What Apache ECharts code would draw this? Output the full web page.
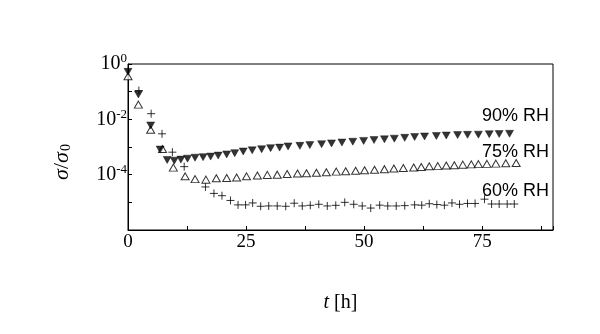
<!DOCTYPE html>
<html>
<head>
<meta charset="utf-8">
<script src="https://cdn.jsdelivr.net/npm/echarts@6/dist/echarts.min.js"></script>
<style>
  html, body { margin: 0; padding: 0; background: #fff; }
  #chart { width: 600px; height: 334px; }
</style>
</head>
<body>
<div id="chart"></div>
<script>
// Normalised conductivity sigma/sigma0 versus time at three humidities
const xTicks = [0, 25, 50, 75];

const rh90 = [
  [0, 0.52], [2.2, 0.079], [4.8, 6.0e-3], [6.8, 8.1e-4], [8.3, 3.4e-4],
  [9.8, 3.2e-4], [11.2, 3.5e-4], [12.6, 3.8e-4], [14.2, 4.1e-4], [15.9, 4.3e-4],
  [17.5, 4.5e-4], [19.1, 4.9e-4], [20.9, 5.4e-4], [22.6, 6.0e-4], [24.4, 6.9e-4],
  [26.3, 7.6e-4], [28.3, 8.3e-4], [30.2, 9.1e-4], [32.1, 9.5e-4], [33.9, 1.05e-3],
  [36.4, 1.1e-3], [38.5, 1.17e-3], [41.0, 1.26e-3], [43.1, 1.35e-3], [45.3, 1.45e-3],
  [47.6, 1.55e-3], [49.9, 1.66e-3], [52.1, 1.78e-3], [54.3, 1.9e-3], [56.4, 2.0e-3],
  [58.6, 2.14e-3], [60.7, 2.3e-3], [62.8, 2.4e-3], [65.3, 2.5e-3], [67.4, 2.6e-3],
  [69.8, 2.7e-3], [71.9, 2.75e-3], [74.2, 2.8e-3], [76.5, 2.9e-3], [78.6, 2.95e-3],
  [80.8, 3.0e-3]
];

const rh75 = [
  [0, 0.36], [2.2, 0.034], [4.8, 4.2e-3], [7.3, 8.5e-4], [9.6, 1.8e-4],
  [12.1, 8.7e-5], [14.2, 6.9e-5], [16.5, 6.6e-5], [18.7, 7.4e-5], [20.9, 7.6e-5],
  [23.0, 7.9e-5], [25.1, 8.7e-5], [27.4, 9.3e-5], [29.5, 9.8e-5], [31.6, 1.0e-4],
  [33.7, 1.05e-4], [35.9, 1.1e-4], [37.8, 1.12e-4], [39.9, 1.17e-4], [42.0, 1.23e-4],
  [44.1, 1.29e-4], [46.1, 1.32e-4], [48.2, 1.38e-4], [50.1, 1.45e-4], [52.2, 1.5e-4],
  [54.3, 1.58e-4], [56.3, 1.66e-4], [58.3, 1.74e-4], [60.5, 1.82e-4], [62.1, 1.9e-4],
  [63.8, 2.0e-4], [65.6, 2.04e-4], [67.4, 2.14e-4], [69.1, 2.2e-4], [70.9, 2.3e-4],
  [72.7, 2.35e-4], [74.2, 2.4e-4], [76.0, 2.45e-4], [77.9, 2.5e-4], [80.0, 2.57e-4],
  [82.2, 2.63e-4]
];

const rh60 = [
  [2.3, 0.11], [4.9, 0.016], [7.2, 3.0e-3], [9.4, 6.5e-4], [11.9, 1.95e-4],
  [16.4, 3.6e-5], [18.2, 2.1e-5], [19.9, 1.74e-5], [21.7, 1.17e-5], [23.3, 8.1e-6],
  [24.9, 8.1e-6], [26.4, 9.5e-6], [28.1, 7.2e-6], [29.8, 7.4e-6], [31.6, 7.4e-6],
  [33.4, 7.2e-6], [35.2, 9.3e-6], [36.9, 7.4e-6], [38.6, 7.8e-6], [40.4, 8.5e-6],
  [42.2, 7.4e-6], [44.0, 7.8e-6], [45.9, 1.0e-5], [47.8, 8.5e-6], [49.6, 7.4e-6],
  [51.4, 6.2e-6], [53.3, 7.9e-6], [55.0, 7.4e-6], [56.8, 7.4e-6], [58.6, 7.6e-6],
  [60.7, 8.1e-6], [62.2, 7.9e-6], [63.8, 8.9e-6], [65.4, 8.3e-6], [67.0, 7.9e-6],
  [68.6, 9.5e-6], [70.2, 8.5e-6], [71.9, 9.1e-6], [73.5, 9.1e-6], [75.5, 1.3e-5],
  [77.0, 8.7e-6], [78.6, 8.7e-6], [80.3, 8.7e-6], [81.8, 8.7e-6]
];

const seriesLabels = ['90% RH', '75% RH', '60% RH'];
const yLabelExponents = [0, -2, -4];

const serif = 'Liberation Serif, Times New Roman, serif';
const sans = 'Liberation Sans, Arial, sans-serif';
const plusPath = 'path://M0,5L10,5M5,0L5,10';

const chart = echarts.init(document.getElementById('chart'), null, { renderer: 'canvas' });

chart.setOption({
  animation: false,
  backgroundColor: '#fff',
  grid: {
    left: 128, top: 64, right: 47, bottom: 104,
    show: true, borderColor: '#000', borderWidth: 1, backgroundColor: 'transparent'
  },
  xAxis: {
    type: 'value',
    min: 0, max: 90, interval: 12.5,
    name: '{i|t} [h]',
    nameLocation: 'middle',
    nameGap: 63,
    nameTextStyle: {
      fontFamily: serif, fontSize: 20, color: '#000',
      rich: { i: { fontFamily: serif, fontSize: 20, fontStyle: 'italic', color: '#000' } }
    },
    axisLine: { show: true, onZero: false, lineStyle: { color: '#000', width: 1 } },
    axisTick: { show: true, inside: true, length: 4, lineStyle: { color: '#000' } },
    splitLine: { show: false },
    axisLabel: {
      margin: 3,
      fontFamily: serif, fontSize: 19, color: '#000',
      formatter: v => (xTicks.indexOf(v) >= 0 ? String(v) : '')
    }
  },
  yAxis: {
    type: 'log',
    logBase: 10,
    min: 1e-6, max: 1, interval: 1,
    name: '{s|σ}{n|/}{s|σ}{sub|0}',
    nameLocation: 'middle',
    nameGap: 55,
    nameRotate: 90,
    nameTextStyle: {
      padding: [0, 30, 0, 0],
      rich: {
        s: { fontFamily: serif, fontSize: 22, fontStyle: 'italic', color: '#000' },
        n: { fontFamily: serif, fontSize: 22, color: '#000' },
        sub: { fontFamily: serif, fontSize: 14, color: '#000', verticalAlign: 'bottom', padding: [6, 0, 0, 1] }
      }
    },
    axisLine: { show: true, lineStyle: { color: '#000', width: 1 } },
    axisTick: { show: true, inside: true, length: 4, lineStyle: { color: '#000' } },
    splitLine: { show: false },
    axisLabel: {
      margin: 1,
      formatter: v => {
        const e = Math.round(Math.log10(v));
        return yLabelExponents.indexOf(e) >= 0 ? '{b|10}{e|' + String(e) + '}' : '';
      },
      rich: {
        b: { fontFamily: serif, fontSize: 20, color: '#000' },
        e: { fontFamily: serif, fontSize: 13, color: '#000', verticalAlign: 'top', padding: [0, 0, 10, 0] }
      }
    }
  },
  graphic: [
    { type: 'text', right: 51, top: 107, style: { text: seriesLabels[0], font: '18px ' + sans, fill: '#000' } },
    { type: 'text', right: 51, top: 143, style: { text: seriesLabels[1], font: '18px ' + sans, fill: '#000' } },
    { type: 'text', right: 51, top: 182, style: { text: seriesLabels[2], font: '18px ' + sans, fill: '#000' } }
  ],
  series: [
    {
      name: seriesLabels[2], type: 'scatter', data: rh60,
      symbol: plusPath, symbolSize: 8,
      itemStyle: { color: 'none', borderColor: '#000', borderWidth: 1 }
    },
    {
      name: seriesLabels[1], type: 'scatter', data: rh75,
      symbol: 'triangle', symbolSize: [8, 7],
      itemStyle: { color: '#fff', borderColor: '#000', borderWidth: 1 }
    },
    {
      name: seriesLabels[0], type: 'scatter', data: rh90,
      symbol: 'triangle', symbolSize: [8, 7], symbolRotate: 180,
      itemStyle: { color: '#000', borderColor: '#000', borderWidth: 0.5 }
    }
  ]
});
</script>
</body>
</html>
